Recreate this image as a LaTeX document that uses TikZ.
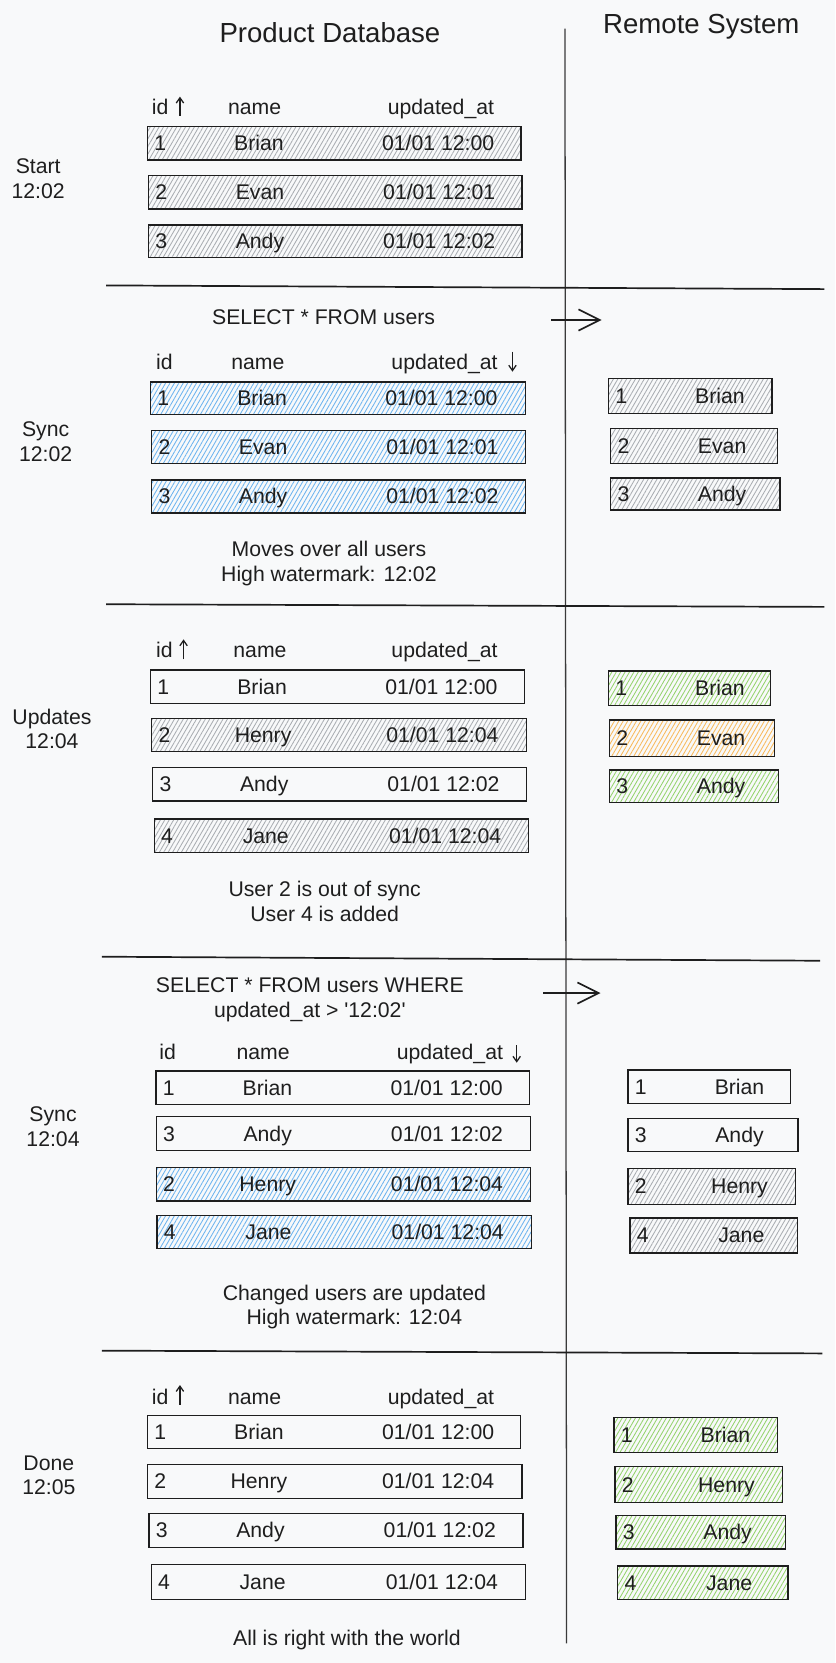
\documentclass[tikz,border=0pt]{standalone}
\usepackage{fontspec}
\setmainfont{Liberation Sans}
\usetikzlibrary{patterns.meta,arrows.meta}
\definecolor{ink}{HTML}{1E1E1E}
\definecolor{bg}{HTML}{F8F9FA}
\definecolor{hgrayc}{HTML}{A9ADB2}
\definecolor{hbluec}{HTML}{6CB4F0}
\definecolor{hgreenc}{HTML}{94D36C}
\definecolor{horangec}{HTML}{F9B95A}
\definecolor{divc}{HTML}{3A3A3A}
\tikzset{
  rowbox/.style={draw=ink, line width=1.2pt, rectangle, inner sep=0pt, outer sep=0pt},
  hatchbase/.style={pattern={Lines[angle=60,distance=3.6pt,line width=0.8pt]}},
  gfill/.style={hatchbase, pattern color=hgrayc},
  bfill/.style={hatchbase, pattern color=hbluec},
  grfill/.style={hatchbase, pattern color=hgreenc},
  ofill/.style={hatchbase, pattern color=horangec},
  nofill/.style={},
  txt/.style={inner sep=0pt, outer sep=0pt, text=ink, font=\fontsize{20}{23.5}\selectfont, anchor=base},
  note/.style={txt, align=center},
  ttl/.style={txt, font=\fontsize{26}{30}\selectfont},
  sepline/.style={draw=ink, line width=1.6pt},
  divline/.style={draw=divc, line width=1.2pt},
  flow/.style={draw=ink, line width=1.6pt, -{Straight Barb[length=20pt,width=20pt]}},
  sortarrow/.style={draw=ink, line width=1.2pt, -{Straight Barb[length=5pt,width=7pt]}},
}
% #1 name, #2 x1, #3 y1, #4 x2, #5 y2, #6 fill style, #7 id, #8 name, #9 time
\newcommand\dbrow[9]{%
  \node[rowbox,#6,anchor=north west,minimum width={(#4-#2)*1pt},minimum height={(#5-#3)*1pt}] (#1) at (#2,#3) {};
  \node[txt] (#1-id) at ([xshift=12pt,yshift=-7pt]#1.west) {#7};
  \node[txt] (#1-nm) at ([xshift=105pt,yshift=-7pt]#1.west) {#8};
  \node[txt] (#1-ts) at ([xshift=274pt,yshift=-7pt]#1.west) {#9};
}
\newcommand\rmrow[8]{%
  \node[rowbox,#6,anchor=north west,minimum width={(#4-#2)*1pt},minimum height={(#5-#3)*1pt}] (#1) at (#2,#3) {};
  \node[txt] (#1-id) at ([xshift=12pt,yshift=-7pt]#1.west) {#7};
  \node[txt] (#1-nm) at ([xshift=105pt,yshift=-7pt]#1.west) {#8};
}
\begin{document}
\begin{tikzpicture}[x=1pt,y=-1pt]
\useasboundingbox (0,0) rectangle (787,1567.4);
\fill[bg] (0,0) rectangle (787,1567.4);

% titles
\node[ttl] (tdb) at (311,40.5) {Product Database};
\node[ttl] (trs) at (661,31.4) {Remote System};

% divider and separators
\draw[divline] (532.5,27) -- (534,1549);
\draw[sepline] (100,269) -- (777,272.5);
\draw[sepline] (100,569.5) -- (777,572);
\draw[sepline] (96,901.7) -- (773,905.5);
\draw[sepline] (96,1273) -- (775,1275.6);

% ---------- Section 1: Start ----------
\node[note] (l1) at (36,187) {Start\\12:02};
\node[txt] (h1id) at (151,108) {id};
\node[txt] (h1nm) at (240,108) {name};
\node[txt] (h1up) at (415.6,108) {updated\_at};
\coordinate (s1a) at (169.6,109.3);
\coordinate (s1b) at (169.6,91.1);
\draw[sortarrow] (s1a) -- (s1b);
\dbrow{r11}{139}{119.4}{491}{150.8}{gfill}{1}{Brian}{01/01 12:00}
\dbrow{r12}{140}{165.6}{492}{197}{gfill}{2}{Evan}{01/01 12:01}
\dbrow{r13}{140}{212}{492}{243}{gfill}{3}{Andy}{01/01 12:02}

% ---------- Section 2: Sync 12:02 ----------
\node[note] (l2) at (43,435) {Sync\\12:02};
\node[txt] (q2) at (305,306.3) {SELECT * FROM users};
\coordinate (f2a) at (519.5,301.6);
\coordinate (f2b) at (567,301.6);
\draw[flow] (f2a) -- (f2b);
\node[txt] (h2id) at (155,348) {id};
\node[txt] (h2nm) at (243,348) {name};
\node[txt] (h2up) at (419,348) {updated\_at};
\coordinate (s2a) at (483,331.5);
\coordinate (s2b) at (483,350.3);
\draw[sortarrow] (s2a) -- (s2b);
\dbrow{r21}{142}{360}{495}{391}{bfill}{1}{Brian}{01/01 12:00}
\dbrow{r22}{143}{406}{495}{437}{bfill}{2}{Evan}{01/01 12:01}
\dbrow{r23}{143}{452.4}{495}{483.6}{bfill}{3}{Andy}{01/01 12:02}
\rmrow{m21}{573.6}{357}{727.7}{390}{gfill}{1}{Brian}
\rmrow{m22}{575.6}{404}{732.7}{437}{gfill}{2}{Evan}
\rmrow{m23}{575.6}{450.6}{735.2}{480.7}{gfill}{3}{Andy}
\node[note] (n2) at (310,548.2) {Moves over all users\\High watermark: 12:02};

% ---------- Section 3: Updates 12:04 ----------
\node[note] (l3) at (49,705.9) {Updates\\12:04};
\node[txt] (h3id) at (155,620) {id};
\node[txt] (h3nm) at (245,620) {name};
\node[txt] (h3up) at (419,620) {updated\_at};
\coordinate (s3a) at (173,621.4);
\coordinate (s3b) at (173,602.6);
\draw[sortarrow] (s3a) -- (s3b);
\dbrow{r31}{142}{631.5}{494.4}{663}{nofill}{1}{Brian}{01/01 12:00}
\dbrow{r32}{143}{677}{496}{708.5}{gfill}{2}{Henry}{01/01 12:04}
\dbrow{r33}{144}{723.5}{496}{755}{nofill}{3}{Andy}{01/01 12:02}
\dbrow{r34}{145.5}{772}{498}{803.7}{gfill}{4}{Jane}{01/01 12:04}
\rmrow{m31}{573.6}{632.4}{726}{665}{grfill}{1}{Brian}
\rmrow{m32}{574.6}{678.6}{730.2}{713}{ofill}{2}{Evan}
\rmrow{m33}{574.6}{725.7}{734}{756.2}{grfill}{3}{Andy}
\node[note] (n3) at (306,868.5) {User 2 is out of sync\\User 4 is added};

% ---------- Section 4: Sync 12:04 ----------
\node[note] (l4) at (50,1080.7) {Sync\\12:04};
\node[note] (q4) at (292,959.1) {SELECT * FROM users WHERE\\updated\_at > \textquotesingle 12:02\textquotesingle};
\coordinate (f4a) at (512,936);
\coordinate (f4b) at (566,936);
\draw[flow] (f4a) -- (f4b);
\node[txt] (h4id) at (158,999) {id};
\node[txt] (h4nm) at (248,999) {name};
\node[txt] (h4up) at (424,999) {updated\_at};
\coordinate (s4a) at (487,985);
\coordinate (s4b) at (487,1001.6);
\draw[sortarrow] (s4a) -- (s4b);
\dbrow{r41}{147}{1009.4}{499}{1040.8}{nofill}{1}{Brian}{01/01 12:00}
\dbrow{r42}{147.3}{1052.5}{500}{1084.5}{nofill}{3}{Andy}{01/01 12:02}
\dbrow{r43}{147.3}{1100.5}{500}{1132}{bfill}{2}{Henry}{01/01 12:04}
\dbrow{r44}{148}{1145.5}{501}{1177}{bfill}{4}{Jane}{01/01 12:04}
\rmrow{m41}{592}{1008.5}{744.8}{1040}{nofill}{1}{Brian}
\rmrow{m42}{592}{1054}{752}{1085}{nofill}{3}{Andy}
\rmrow{m43}{592}{1101}{749.5}{1135}{gfill}{2}{Henry}
\rmrow{m44}{593.7}{1148}{751.5}{1181}{gfill}{4}{Jane}
\node[note] (n4) at (334,1248.8) {Changed users are updated\\High watermark: 12:04};

% ---------- Section 5: Done 12:05 ----------
\node[note] (l5) at (46,1409) {Done\\12:05};
\node[txt] (h5id) at (151,1324) {id};
\node[txt] (h5nm) at (240,1324) {name};
\node[txt] (h5up) at (415.6,1324) {updated\_at};
\coordinate (s5a) at (169.6,1324.2);
\coordinate (s5b) at (169.6,1305.4);
\draw[sortarrow] (s5a) -- (s5b);
\dbrow{r51}{139}{1334.3}{490.3}{1365}{nofill}{1}{Brian}{01/01 12:00}
\dbrow{r52}{139}{1380}{492}{1412}{nofill}{2}{Henry}{01/01 12:04}
\dbrow{r53}{140.5}{1426.3}{492.8}{1458.3}{nofill}{3}{Andy}{01/01 12:02}
\dbrow{r54}{142.5}{1474.4}{495.3}{1507.4}{nofill}{4}{Jane}{01/01 12:04}
\rmrow{m51}{578.7}{1335.8}{732.7}{1368.8}{grfill}{1}{Brian}
\rmrow{m52}{579.7}{1382.4}{737.7}{1416.3}{grfill}{2}{Henry}
\rmrow{m53}{580.7}{1428.5}{740.2}{1460}{grfill}{3}{Andy}
\rmrow{m54}{582.2}{1476}{742.7}{1507.4}{grfill}{4}{Jane}
\node[txt] (n5) at (327,1551) {All is right with the world};
\end{tikzpicture}
\end{document}
